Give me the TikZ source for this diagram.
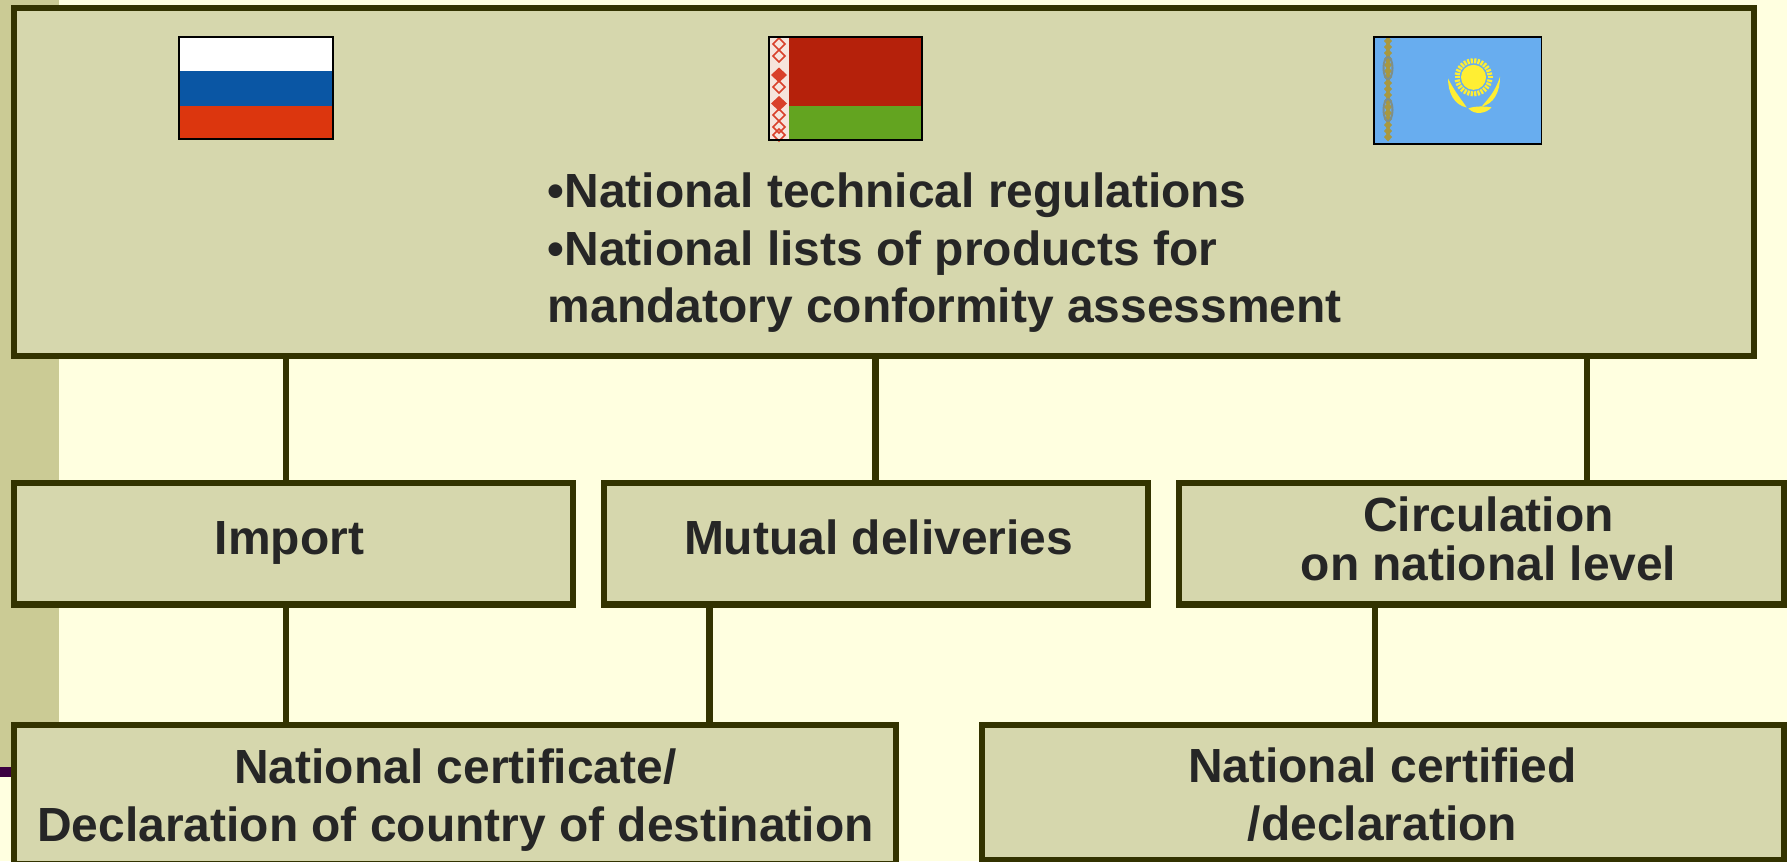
\documentclass[tikz,border=0pt]{standalone}
\usepackage{fontspec}
\setmainfont{Liberation Sans}
\usepackage{tikz}
\usetikzlibrary{calc,positioning}
\definecolor{pagecol}{HTML}{FFFFE0}
\definecolor{sidecol}{HTML}{CBCB95}
\definecolor{rulecol}{HTML}{3B0040}
\definecolor{boxcol}{HTML}{D6D7AD}
\definecolor{edgecol}{HTML}{333300}
\definecolor{inkcol}{HTML}{262626}
\definecolor{ruswhite}{HTML}{FFFFFF}
\definecolor{rusblue}{HTML}{0A56A4}
\definecolor{rusred}{HTML}{DC360E}
\definecolor{belred}{HTML}{B5210B}
\definecolor{belgreen}{HTML}{63A420}
\definecolor{belpale}{HTML}{F6E4DC}
\definecolor{belorn}{HTML}{D9402A}
\definecolor{kazblue}{HTML}{68ADEF}
\definecolor{kazgold}{HTML}{A8983F}
\definecolor{kazgrey}{HTML}{7E8F8A}
\definecolor{sunyellow}{HTML}{FFEE33}
\tikzset{
	box/.style={draw=edgecol, fill=boxcol, line width=0.125cm, outer sep=0pt, inner sep=0pt},
	link/.style={draw=edgecol, line width=0.125cm},
	lbl/.style={text=inkcol, inner sep=0pt, align=center, font=\bfseries\fontsize{27.28}{32.7}\selectfont},
	tightlbl/.style={lbl, font=\bfseries\fontsize{27.28}{28}\selectfont},
	flagedge/.style={draw=black, line width=0.035cm}
}
\begin{document}
\begin{tikzpicture}
	\useasboundingbox (0,0) rectangle (35.74,-17.22);
	\clip (0,0) rectangle (35.74,-17.22);
	\fill[pagecol] (0,0) rectangle (35.74,-17.22);
	\fill[sidecol] (0,0) rectangle (1.18,-15.34);
	\fill[rulecol] (0,-15.34) rectangle (0.4,-15.54);

	\coordinate (cimport) at (5.72,0);
	\coordinate (cmutual) at (17.51,0);
	\coordinate (ccirc) at (31.74,0);
	\coordinate (cnatleft) at (14.19,0);
	\coordinate (cnatright) at (27.5,0);

	\node[box, minimum width=34.8cm, minimum height=6.966cm] (regs) at (17.68,-3.637) {};
	\node[box, minimum width=11.18cm, minimum height=2.43cm] (import) at (5.87,-10.875) {};
	\node[box, minimum width=10.88cm, minimum height=2.43cm] (mutual) at (17.52,-10.875) {};
	\node[box, minimum width=12.106cm, minimum height=2.43cm] (circ) at (29.627,-10.875) {};
	\node[box, minimum width=17.64cm, minimum height=2.78cm] (natcert) at (9.1,-15.89) {};
	\node[box, minimum width=16.04cm, minimum height=2.71cm] (natdecl) at (27.66,-15.855) {};

	\draw[link] (regs.south -| cimport) -- (import.north -| cimport);
	\draw[link] (regs.south -| cmutual) -- (mutual.north -| cmutual);
	\draw[link] (regs.south -| ccirc) -- (circ.north -| ccirc);
	\draw[link] (import.south -| cimport) -- (natcert.north -| cimport);
	\draw[link] (mutual.south -| cnatleft) -- (natcert.north -| cnatleft);
	\draw[link] (circ.south -| cnatright) -- (natdecl.north -| cnatright);

	\node[lbl, align=left, anchor=west] (regstext) at (10.95,-5.055) {•National technical regulations\\•National lists of products for\\mandatory conformity assessment};
	\node[lbl, anchor=base] (importtext) at (5.79,-11.08) {Import};
	\node[lbl, anchor=base] (mutualtext) at (17.57,-11.09) {Mutual deliveries};
	\node[tightlbl] (circtext) at (29.77,-10.78) {Circulation\\on national level};
	\node[lbl] (natcerttext) at (9.11,-16.0) {National certificate/\\Declaration of country of destination};
	\node[lbl] (natdecltext) at (27.65,-15.89) {National certified\\/declaration};

	% russia
	\fill[ruswhite] (3.58,-0.734) rectangle (6.66,-1.414);
	\fill[rusblue] (3.58,-1.414) rectangle (6.66,-2.114);
	\fill[rusred] (3.58,-2.114) rectangle (6.66,-2.774);
	\draw[flagedge] (3.58,-0.734) rectangle (6.66,-2.774);

	% belarus
	\fill[belred] (15.374,-0.734) rectangle (18.44,-2.12);
	\fill[belgreen] (15.374,-2.12) rectangle (18.44,-2.806);
	\fill[belpale] (15.374,-0.734) rectangle (15.786,-2.806);
	\foreach \y in {-0.88,-1.12,-1.74,-2.3,-2.54,-2.7}
		\draw[belorn, line width=0.03cm] (15.58,\y+0.12) -- (15.7,\y) -- (15.58,\y-0.12) -- (15.46,\y) -- cycle;
	\foreach \y in {-1.5,-2.07}
		\fill[belorn] (15.58,\y+0.15) -- (15.74,\y) -- (15.58,\y-0.15) -- (15.42,\y) -- cycle;
	\draw[flagedge] (15.374,-0.734) rectangle (18.44,-2.806);

	% kazakhstan
	\fill[kazblue] (27.474,-0.734) rectangle (30.83,-2.874);
	\foreach \y in {-0.82,-0.94,-1.06,-1.18,-1.3,-1.42,-1.54,-1.66,-1.78,-1.9,-2.02,-2.14,-2.26,-2.38,-2.5,-2.62,-2.74}
		\fill[kazgold] (27.76,\y+0.09) -- (27.84,\y) -- (27.76,\y-0.09) -- (27.68,\y) -- cycle;
	\foreach \y in {-1.36,-2.2}
		\draw[kazgrey, line width=0.04cm] (27.76,\y) circle (0.09 and 0.22);
	\fill[sunyellow] (29.47,-1.546) circle (0.25);
	\foreach \a in {0,12,...,348}
		\draw[sunyellow, line width=0.045cm] ($(29.47,-1.546)+(\a:0.28)$) -- ($(29.47,-1.546)+(\a:0.38)$);
	\fill[sunyellow] (28.96,-1.567) .. controls (28.96,-1.85) and (29.08,-2.1) .. (29.333,-2.15) .. controls (29.24,-2) and (29.1,-1.85) .. cycle;
	\fill[sunyellow] (30.0,-1.533) .. controls (30.0,-1.85) and (29.87,-2.08) .. (29.633,-2.13) .. controls (29.74,-2) and (29.9,-1.85) .. cycle;
	\fill[sunyellow] (29.367,-2.167) .. controls (29.5,-2.12) and (29.7,-2.12) .. (29.83,-2.147) .. controls (29.74,-2.26) and (29.5,-2.32) .. cycle;
	\draw[flagedge] (27.474,-0.734) rectangle (30.83,-2.874);
\end{tikzpicture}
\end{document}
